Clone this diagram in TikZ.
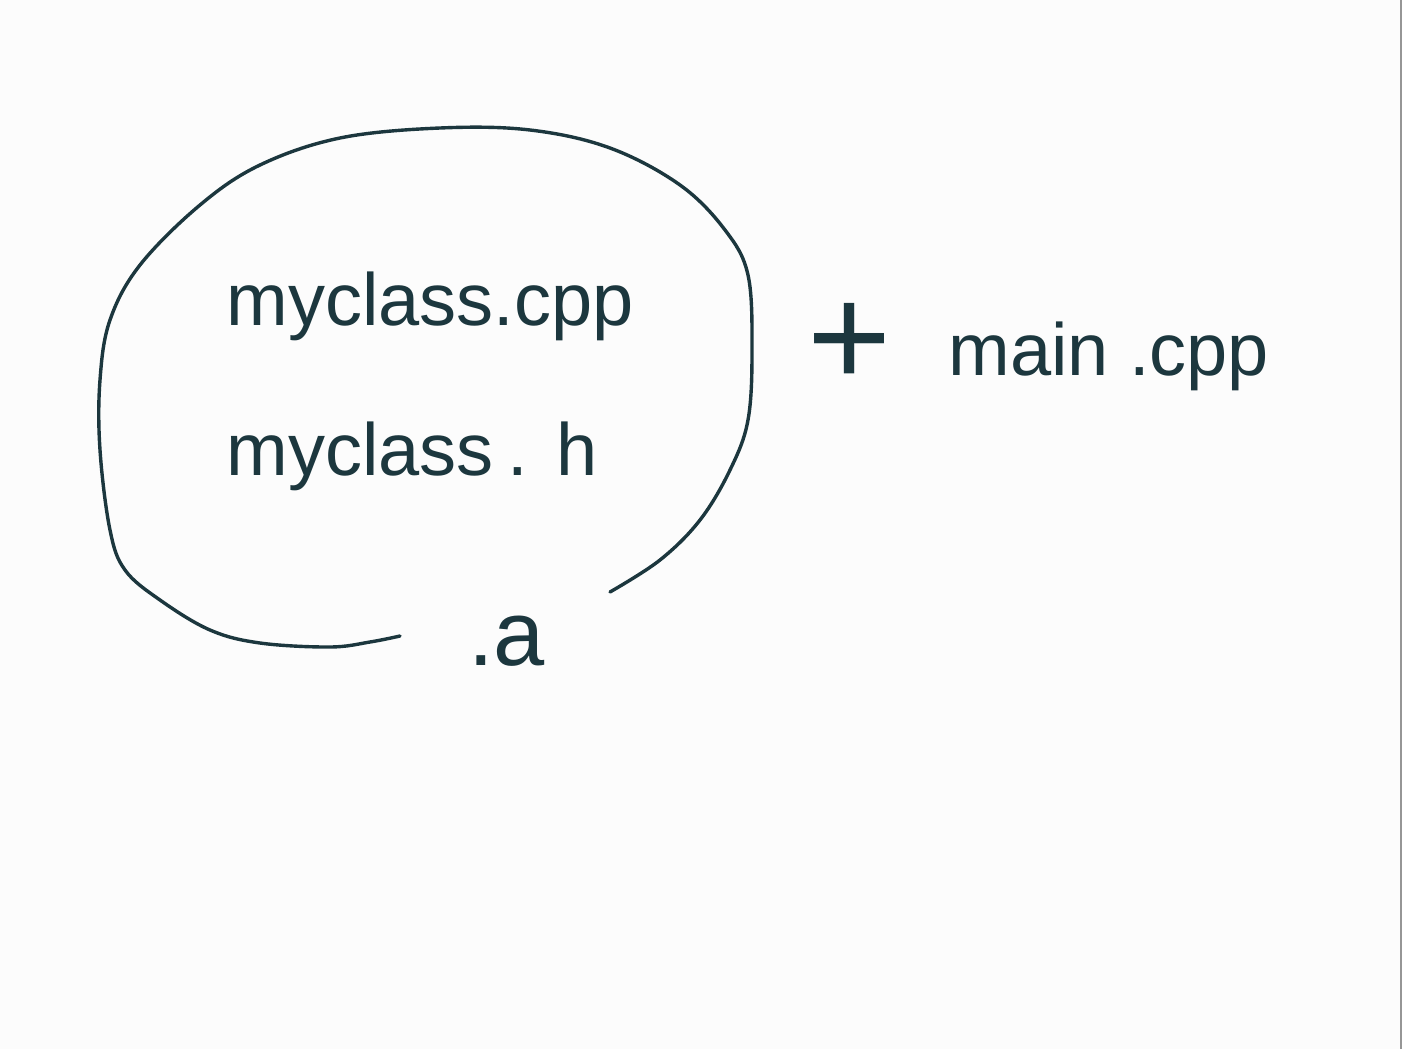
\documentclass[tikz,border=0pt]{standalone}
\usepackage{fontspec}
\setmainfont{Liberation Sans}
\definecolor{ink}{RGB}{28,55,62}
\definecolor{paper}{RGB}{252,252,252}
\definecolor{edge}{RGB}{150,150,150}
\begin{document}
\begin{tikzpicture}[x=0.5pt,y=-0.5pt,
  hand/.style={font=\fontsize{37}{44}\selectfont, text=ink, inner sep=0pt, anchor=base west},
  stroke/.style={draw=ink, line width=1.7pt, line cap=round, line join=round}]
\fill[paper] (0,0) rectangle (1402,1049);
\useasboundingbox (0,0) rectangle (1402,1049);
\draw[edge, line width=1pt] (1401,0) -- (1401,1049);
% loop around the library files
\draw[stroke] plot[smooth, tension=0.6] coordinates {
 (400,636) (370,642) (330,647) (260,643) (210,630) (160,600) (125,570)
 (110,530) (100,450) (100,380) (110,320) (140,265) (200,205) (260,165)
 (340,138) (440,128) (530,130) (610,148) (680,185) (725,230) (748,275)
 (752,350) (748,420) (730,470) (700,520) (660,560) (610,592)};
\node[hand] (cpp) at (226,325) {myclass.cpp};
\node[hand] (h) at (226,475) {myclass\hspace{7pt}.\hspace{14pt}h};
\node[hand, font=\fontsize{46}{52}\selectfont] (a) at (468,665) {.a};
\node[text=ink, inner sep=0pt, font=\fontsize{72}{80}\selectfont] (plus) at (850,345) {+};
\node[hand] (main) at (948,375) {main .cpp};
\end{tikzpicture}
\end{document}
